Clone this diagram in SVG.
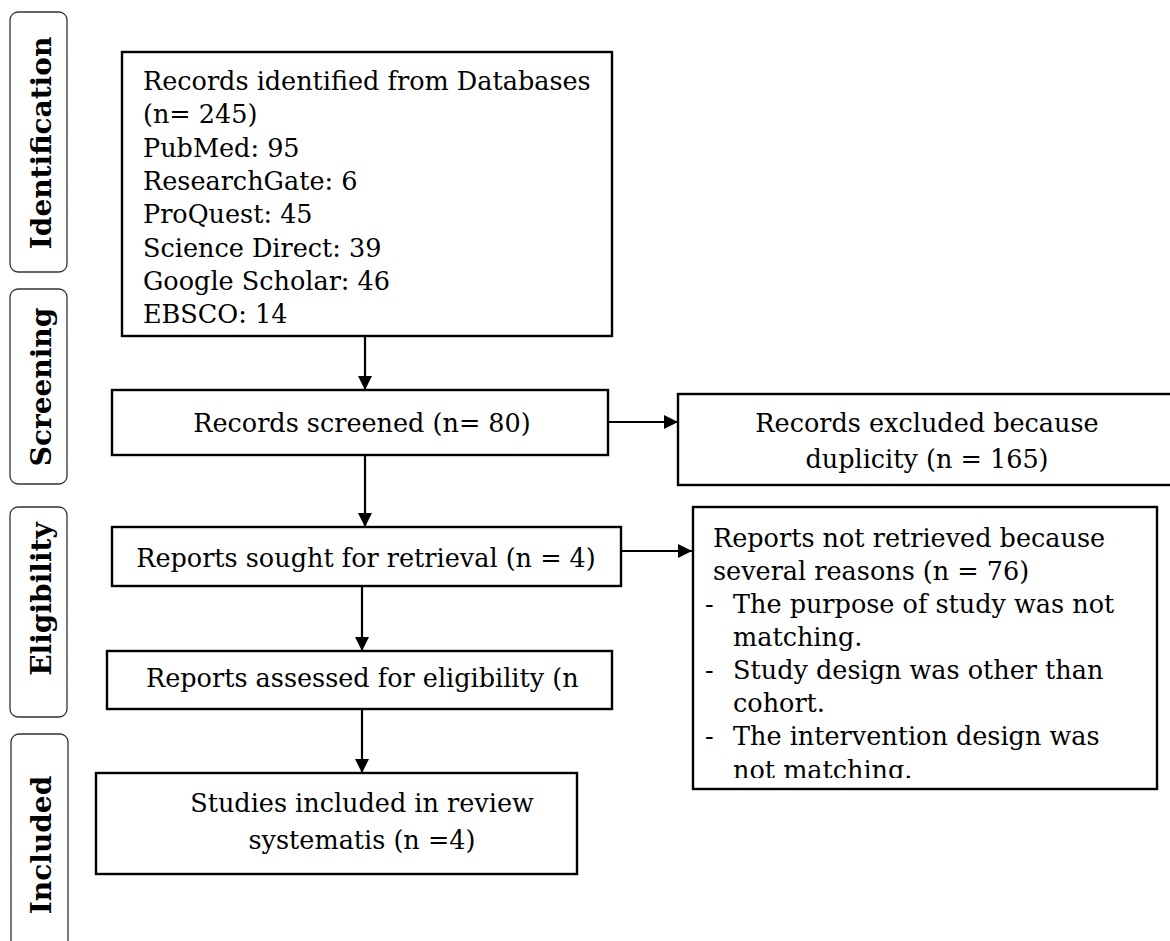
<svg xmlns="http://www.w3.org/2000/svg" width="1170" height="941" viewBox="0 0 1170 941">
<style>
  .box { fill: #ffffff; stroke: #000000; stroke-width: 2.4; }
  .phase { fill: #ffffff; stroke: #333333; stroke-width: 1.3; }
  .t { font-family: "DejaVu Serif", "Liberation Serif", serif; font-size: 25.5px; fill: #000000; }
  .c { text-anchor: middle; }
  .ph { font-family: "DejaVu Serif", "Liberation Serif", serif; font-size: 28px; font-weight: bold; fill: #000000; text-anchor: middle; }
  .conn { stroke: #000000; stroke-width: 2.2; fill: none; }
</style>
<defs>
  <marker id="ah" markerUnits="userSpaceOnUse" markerWidth="14" markerHeight="14" viewBox="0 0 14 14" refX="14" refY="7" orient="auto">
    <path d="M0,0 L14,7 L0,14 Z" fill="#000000"/>
  </marker>
  <clipPath id="clipR"><rect x="692" y="507" width="465" height="271"/></clipPath>
</defs>
<rect width="1170" height="941" fill="#ffffff"/>

<g id="phase-identification">
  <rect class="phase" x="10" y="12" width="57" height="260" rx="8"/>
  <text class="ph" transform="translate(51,143) rotate(-90)">Identification</text>
</g>
<g id="phase-screening">
  <rect class="phase" x="10" y="289" width="57" height="195" rx="8"/>
  <text class="ph" transform="translate(51,387) rotate(-90)">Screening</text>
</g>
<g id="phase-eligibility">
  <rect class="phase" x="10" y="507" width="57" height="210" rx="8"/>
  <text class="ph" transform="translate(51,599) rotate(-90)">Eligibility</text>
</g>
<g id="phase-included">
  <rect class="phase" x="11" y="734" width="57" height="230" rx="8"/>
  <text class="ph" transform="translate(51,845) rotate(-90)">Included</text>
</g>

<g id="connectors">
  <line class="conn" x1="365" y1="336" x2="365" y2="390" marker-end="url(#ah)"/>
  <line class="conn" x1="365" y1="455" x2="365" y2="527" marker-end="url(#ah)"/>
  <line class="conn" x1="608" y1="422" x2="678" y2="422" marker-end="url(#ah)"/>
  <line class="conn" x1="621" y1="551" x2="692" y2="551" marker-end="url(#ah)"/>
  <line class="conn" x1="362" y1="586" x2="362" y2="651" marker-end="url(#ah)"/>
  <line class="conn" x1="362" y1="709" x2="362" y2="773" marker-end="url(#ah)"/>
</g>

<g id="node-identified">
  <rect class="box" x="122" y="52" width="490" height="284"/>
  <text class="t" x="143" y="90">Records identified from Databases</text>
  <text class="t" x="143" y="123">(n= 245)</text>
  <text class="t" x="143" y="157">PubMed: 95</text>
  <text class="t" x="143" y="190">ResearchGate: 6</text>
  <text class="t" x="143" y="223">ProQuest: 45</text>
  <text class="t" x="143" y="257">Science Direct: 39</text>
  <text class="t" x="143" y="290">Google Scholar: 46</text>
  <text class="t" x="143" y="323">EBSCO: 14</text>
</g>

<g id="node-screened">
  <rect class="box" x="112" y="390" width="496" height="65"/>
  <text class="t c" x="362" y="432">Records screened (n= 80)</text>
</g>

<g id="node-excluded">
  <rect class="box" x="678" y="394" width="500" height="91"/>
  <text class="t c" x="927" y="432">Records excluded because</text>
  <text class="t c" x="927" y="468">duplicity (n = 165)</text>
</g>

<g id="node-sought">
  <rect class="box" x="112" y="527" width="509" height="59"/>
  <text class="t c" x="366" y="567">Reports sought for retrieval (n = 4)</text>
</g>

<g id="node-not-retrieved">
  <rect class="box" x="693" y="507" width="464" height="282"/>
  <g clip-path="url(#clipR)">
    <text class="t" x="713" y="547">Reports not retrieved because</text>
    <text class="t" x="713" y="580">several reasons (n = 76)</text>
    <text class="t" x="705" y="613">-</text>
    <text class="t" x="733" y="613">The purpose of study was not</text>
    <text class="t" x="733" y="646">matching.</text>
    <text class="t" x="705" y="679">-</text>
    <text class="t" x="733" y="679">Study design was other than</text>
    <text class="t" x="733" y="712">cohort.</text>
    <text class="t" x="705" y="745">-</text>
    <text class="t" x="733" y="745">The intervention design was</text>
    <text class="t" x="733" y="779">not matching.</text>
  </g>
</g>

<g id="node-assessed">
  <rect class="box" x="107" y="651" width="505" height="58"/>
  <text class="t" x="146" y="687">Reports assessed for eligibility (n</text>
</g>

<g id="node-included">
  <rect class="box" x="96" y="773" width="481" height="101"/>
  <text class="t c" x="362" y="812">Studies included in review</text>
  <text class="t c" x="362" y="849">systematis (n =4)</text>
</g>
</svg>
